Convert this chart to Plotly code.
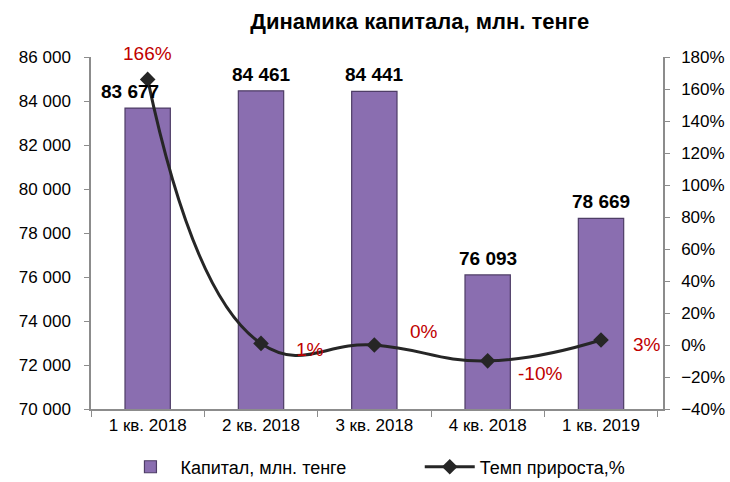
import plotly.graph_objects as go

categories = ["1 кв. 2018", "2 кв. 2018", "3 кв. 2018", "4 кв. 2018", "1 кв. 2019"]
capital = [83677, 84461, 84441, 76093, 78669]
growth = [1.66, 0.01, -0.0002, -0.099, 0.031]
growth_labels = ["166%", "1%", "0%", "-10%", "3%"]
left_ticks = list(range(70000, 86001, 2000))
right_ticks = [x / 10 for x in range(-4, 19, 2)]

FONT = "Liberation Sans"

fig = go.Figure()
fig.add_trace(go.Bar(
    x=categories, y=capital, name="Капитал, млн. тенге",
    width=0.4, legend="legend",
    marker=dict(color="#8A6EB0", line=dict(color="#4E3D66", width=1.2)),
))
fig.add_trace(go.Scatter(
    x=categories, y=growth, name="Темп прироста,%", yaxis="y2", legend="legend2",
    mode="lines+markers",
    line=dict(color="#262626", width=3, shape="spline", smoothing=1.3),
    marker=dict(symbol="diamond", size=12, color="#262626"),
))

bar_label_shift = [-18, 0, 0, 0, 0]
for c, v, dx in zip(categories, capital, bar_label_shift):
    fig.add_annotation(x=c, y=v, yref="y", text=f"<b>{v:,}</b>".replace(",", " "),
                       showarrow=False, xshift=dx, yshift=4, yanchor="bottom",
                       font=dict(family=FONT, size=19, color="black"))

offsets = [(0, -26), (49, 6), (50, -14), (52, 13), (46, 4)]
for c, g, t, (dx, dy) in zip(categories, growth, growth_labels, offsets):
    fig.add_annotation(x=c, y=g, yref="y2", text=t, showarrow=False,
                       xshift=dx, yshift=-dy,
                       font=dict(family=FONT, size=19, color="#C00000"))

legend_common = dict(orientation="h", xref="container", xanchor="left",
                     yref="container", y=0.031, yanchor="middle",
                     font=dict(family=FONT, size=18), itemwidth=50,
                     bgcolor="rgba(0,0,0,0)")

fig.update_layout(
    width=730, height=482,
    margin=dict(l=91, r=67, t=57, b=73, autoexpand=False),
    paper_bgcolor="white", plot_bgcolor="white",
    separators=", ",
    font=dict(family=FONT, size=16, color="black"),
    title=dict(text="<b>Динамика капитала, млн. тенге</b>", x=0.575, xanchor="center",
               y=0.955, yanchor="middle", font=dict(family=FONT, size=22)),
    bargap=0.6,
    showlegend=True,
    legend=dict(x=0.165, **legend_common),
    legend2=dict(x=0.575, **legend_common),
    xaxis=dict(showline=True, linecolor="#8C8C8C", linewidth=1.5, ticks="outside",
               tickson="boundaries", ticklen=6, tickcolor="#8C8C8C",
               tickfont=dict(family=FONT, size=17)),
    yaxis=dict(range=[70000, 86000], tickvals=left_ticks, tickformat=",d",
               showgrid=False, showline=True, linecolor="#8C8C8C", linewidth=1.5,
               ticks="outside", ticklen=5, tickcolor="#8C8C8C", ticklabelstandoff=10,
               tickfont=dict(family=FONT, size=17)),
    yaxis2=dict(range=[-0.4, 1.8], tickvals=right_ticks, tickformat=".0%",
                overlaying="y", side="right", showgrid=False, zeroline=False,
                showline=True, linecolor="#8C8C8C", linewidth=1.5,
                ticks="outside", ticklen=5, tickcolor="#8C8C8C", ticklabelstandoff=8,
                tickfont=dict(family=FONT, size=17)),
)

fig.write_html("out.html")
